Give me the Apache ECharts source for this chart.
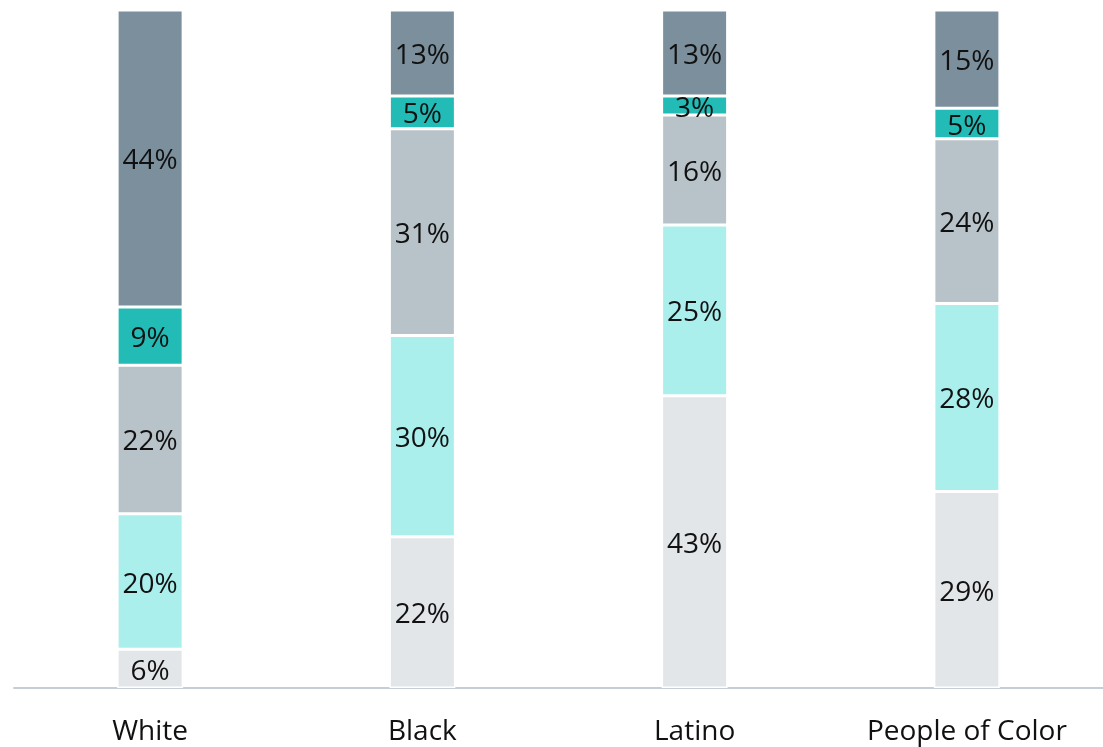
<!DOCTYPE html>
<html>
<head>
<meta charset="utf-8">
<script src="https://cdn.jsdelivr.net/npm/echarts@6/dist/echarts.min.js"></script>
<style>
html,body{margin:0;padding:0;background:#fff;}
#chart{width:1103px;height:747px;}
</style>
</head>
<body>
<div id="chart"></div>
<script>
var categories = ['White', 'Black', 'Latino', 'People of Color'];
// bottom to top segments
var seg1 = [5.7, 22.3, 43.1, 29.0];
var seg2 = [20.0, 29.7, 25.2, 27.7];
var seg3 = [21.9, 30.5, 16.2, 24.3];
var seg4 = [8.6, 4.8, 2.8, 4.5];
var seg5 = [43.8, 12.7, 12.7, 14.5];
var lab1 = ['6%', '22%', '43%', '29%'];
var lab2 = ['20%', '30%', '25%', '28%'];
var lab3 = ['22%', '31%', '16%', '24%'];
var lab4 = ['9%', '5%', '3%', '5%'];
var lab5 = ['44%', '13%', '13%', '15%'];
var colors = ['#e2e6e9', '#abefed', '#b8c3c9', '#22bbb5', '#7b8f9c'];

var segs = [seg1, seg2, seg3, seg4, seg5];
var labs = [lab1, lab2, lab3, lab4, lab5];
var FONT = '"Open Sans", "Noto Sans", sans-serif';

var series = segs.map(function (vals, i) {
  return {
    type: 'bar',
    stack: 'total',
    barWidth: 66,
    data: vals,
    itemStyle: { color: colors[i], borderColor: '#ffffff', borderWidth: 1.5 },
    label: {
      show: true,
      position: 'inside',
      offset: [0, 3],
      color: '#111111',
      fontSize: 28,
      fontFamily: FONT,
      formatter: function (p) { return labs[i][p.dataIndex]; }
    },
    emphasis: { disabled: true },
    animation: false
  };
});

var chart = echarts.init(document.getElementById('chart'));
chart.setOption({
  animation: false,
  grid: { left: 14, right: 0, top: 10, bottom: 59, containLabel: false },
  xAxis: {
    type: 'category',
    data: categories,
    axisLine: { show: true, lineStyle: { color: '#c5ced6', width: 2 } },
    axisTick: { show: false },
    axisLabel: { color: '#111111', fontSize: 28, fontFamily: FONT, margin: 30 }
  },
  yAxis: {
    type: 'value',
    min: 0,
    max: 100,
    show: false,
    splitLine: { show: false }
  },
  series: series
});
</script>
</body>
</html>
